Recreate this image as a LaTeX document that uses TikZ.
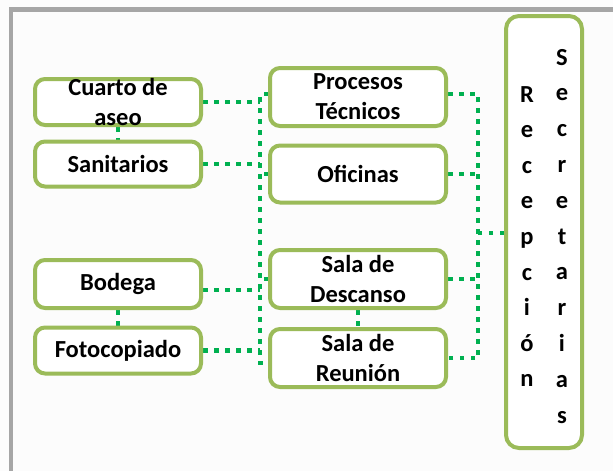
\documentclass[tikz,border=0pt]{standalone}
\usepackage{fontspec}
\setmainfont{Carlito}
\usetikzlibrary{backgrounds,calc}
\definecolor{boxgreen}{HTML}{9BBB59}
\definecolor{dotgreen}{HTML}{00B050}
\definecolor{framegray}{HTML}{A6A6A6}
\tikzset{
  room/.style={draw=boxgreen, line width=4pt, rounded corners=10pt, fill=white,
    inner sep=0pt, align=center, font=\fontsize{24.5}{30}\selectfont\bfseries},
  dotline/.style={draw=dotgreen, line width=4.5pt, dash pattern=on 4.5pt off 6.5pt},
  letter/.style={anchor=base, inner sep=0pt, font=\fontsize{24.5}{30}\selectfont\bfseries}
}
\begin{document}
\begin{tikzpicture}[x=1pt,y=-1pt]
\useasboundingbox (0,0) rectangle (613,471);
% boxes
\node[room, minimum width=166pt, minimum height=46pt] (cuarto) at (118,102) {};
\node[align=center, inner sep=0pt, font=\fontsize{24.5}{30}\selectfont\bfseries] (cuartot) at (118,102) {Cuarto de\\aseo};
\node[room, minimum width=166pt, minimum height=45pt] (sanit) at (118,164) {Sanitarios};
\node[room, minimum width=166pt, minimum height=48pt] (bodega) at (118,284) {Bodega};
\node[room, minimum width=166pt, minimum height=46pt] (foto) at (118,350.5) {Fotocopiado};
\node[room, minimum width=176pt, minimum height=58pt] (proc) at (358,97) {Procesos\\Técnicos};
\node[room, minimum width=176pt, minimum height=57pt] (ofic) at (358,174) {Oficinas};
\node[room, minimum width=176pt, minimum height=58pt] (desc) at (358,279) {Sala de\\Descanso};
\node[room, minimum width=176pt, minimum height=58pt] (reun) at (358,358) {Sala de\\Reunión};
\node[room, minimum width=76pt, minimum height=432pt, rounded corners=13pt] (recep) at (544,232) {};
% vertical letters
\foreach \l [count=\i from 0] in {R,e,c,e,p,c,i,ó,n}
  \node[letter] (r\i) at (527,102+35.6*\i) {\l};
\foreach \l [count=\i from 0] in {S,e,c,r,e,t,a,r,i,a,s}
  \node[letter] (s\i) at (562,65+35.8*\i) {\l};
% bus coordinates
\coordinate (lbt) at (260,94);
\coordinate (lbb) at (260,363);
\coordinate (rbt) at (478,94);
\coordinate (rbb) at (478,358);
\begin{scope}[on background layer]
  \fill[white!99!black] (0,0) rectangle (613,471);
  \draw[framegray, line width=4.3pt] (11,471) -- (11,9.5) -- (613,9.5);
  % left side
  \draw[dotline] (cuarto.south) -- (sanit.north);
  \draw[dotline] (bodega.south) -- (foto.north);
  \draw[dotline] (cuarto.east) -- (cuarto.east -| lbt);
  \draw[dotline] (sanit.east) -- (sanit.east -| lbt);
  \draw[dotline] ($(bodega.east)+(0,6)$) -- ($(bodega.east -| lbt)+(0,6)$);
  \draw[dotline] (foto.east) -- (foto.east -| lbt);
  \draw[dotline] (proc.west |- lbt) -- (lbt) -- (lbb) -- (reun.west |- lbb);
  \draw[dotline] (ofic.west) -- (ofic.west -| lbt);
  \draw[dotline] (desc.west) -- (desc.west -| lbt);
  % middle
  \draw[dotline] (desc.south) -- (reun.north);
  % right side
  \draw[dotline] (proc.east |- rbt) -- (rbt) -- (rbb) -- (reun.east |- rbb);
  \draw[dotline] (ofic.east) -- (ofic.east -| rbt);
  \draw[dotline] (desc.east) -- (desc.east -| rbt);
  \draw[dotline] (recep.west |- 0,233) -- (rbt |- 0,233);
\end{scope}
\end{tikzpicture}
\end{document}
